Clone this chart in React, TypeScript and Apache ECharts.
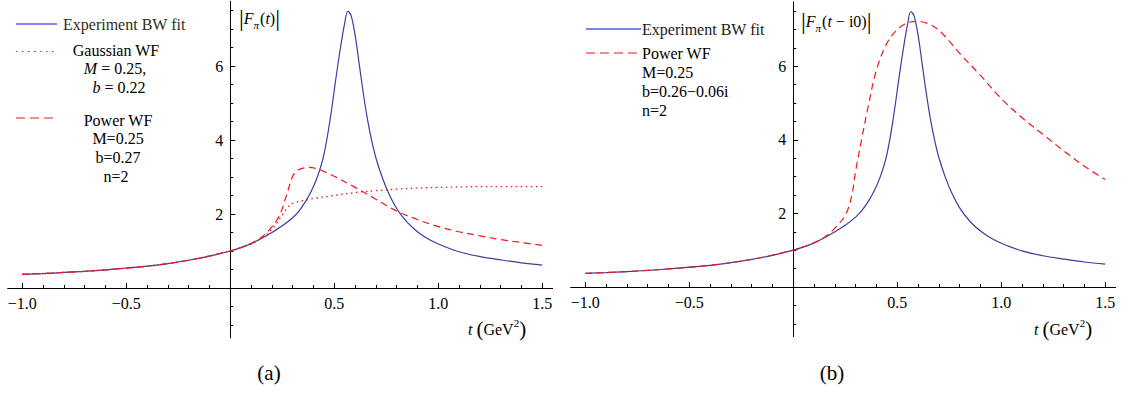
import React, { useEffect, useRef } from "react";
import * as echarts from "echarts";

// ---------- data ----------
const tBW = [-1, -0.9, -0.8, -0.7, -0.6, -0.5, -0.4, -0.3, -0.2, -0.1, 0, 0.05, 0.1, 0.15, 0.2, 0.25, 0.3, 0.33, 0.36, 0.39, 0.42, 0.45, 0.48, 0.51, 0.53, 0.55, 0.565, 0.58, 0.6, 0.62, 0.64, 0.66, 0.68, 0.7, 0.73, 0.76, 0.8, 0.85, 0.9, 0.95, 1.0, 1.1, 1.2, 1.3, 1.4, 1.5];
const fBW = [0.37, 0.39, 0.42, 0.45, 0.49, 0.54, 0.59, 0.66, 0.75, 0.86, 1.0, 1.09, 1.2, 1.34, 1.5, 1.68, 1.9, 2.08, 2.32, 2.62, 3.02, 3.6, 4.55, 5.75, 6.5, 7.15, 7.48, 7.38, 6.85, 6.05, 5.25, 4.55, 3.98, 3.52, 3.0, 2.58, 2.15, 1.78, 1.52, 1.33, 1.19, 0.98, 0.85, 0.76, 0.68, 0.62];

const tGauss = [-1, -0.8, -0.6, -0.4, -0.2, 0, 0.05, 0.1, 0.15, 0.2, 0.25, 0.28, 0.3, 0.35, 0.4, 0.5, 0.6, 0.7, 0.8, 0.9, 1.0, 1.1, 1.2, 1.3, 1.4, 1.5];
const fGauss = [0.37, 0.42, 0.49, 0.59, 0.75, 1.0, 1.09, 1.2, 1.35, 1.58, 1.97, 2.2, 2.29, 2.36, 2.42, 2.5, 2.58, 2.63, 2.67, 2.7, 2.72, 2.73, 2.74, 2.74, 2.74, 2.74];

const tPowerA = [-1, -0.8, -0.6, -0.4, -0.2, 0, 0.05, 0.1, 0.15, 0.2, 0.24, 0.27, 0.3, 0.32, 0.35, 0.38, 0.42, 0.45, 0.5, 0.6, 0.7, 0.8, 0.9, 1.0, 1.1, 1.2, 1.3, 1.4, 1.5];
const fPowerA = [0.37, 0.42, 0.49, 0.59, 0.75, 1.0, 1.09, 1.2, 1.37, 1.65, 2.0, 2.5, 3.02, 3.17, 3.24, 3.26, 3.22, 3.15, 3.02, 2.72, 2.4, 2.08, 1.85, 1.66, 1.52, 1.41, 1.31, 1.23, 1.15];

const tPowerB = [-1, -0.8, -0.6, -0.4, -0.2, 0, 0.05, 0.1, 0.15, 0.2, 0.25, 0.28, 0.3, 0.33, 0.36, 0.4, 0.45, 0.5, 0.55, 0.6, 0.65, 0.7, 0.75, 0.8, 0.9, 1.0, 1.1, 1.2, 1.3, 1.4, 1.5];
const fPowerB = [0.37, 0.42, 0.49, 0.59, 0.75, 1.0, 1.09, 1.2, 1.35, 1.6, 1.95, 2.45, 3.15, 4.05, 4.9, 5.9, 6.62, 7.0, 7.18, 7.22, 7.15, 6.98, 6.68, 6.35, 5.75, 5.12, 4.6, 4.15, 3.7, 3.28, 2.92];

const xMajorTicks = [-1, -0.5, 0.5, 1, 1.5];
const xMinorTicks = [-0.9, -0.8, -0.7, -0.6, -0.4, -0.3, -0.2, -0.1, 0.1, 0.2, 0.3, 0.4, 0.6, 0.7, 0.8, 0.9, 1.1, 1.2, 1.3, 1.4];
const yMajorTicks = [2, 4, 6];
const yMinorTicks = [-1, -0.5, 0.5, 1, 1.5, 2.5, 3, 3.5, 4.5, 5, 5.5, 6.5, 7, 7.5];

const X_MIN = -1.07;
const X_MAX = 1.55;
const Y_MIN = -1.35;
const Y_MAX = 7.75;

const SERIF = "'Liberation Serif', 'Times New Roman', serif";
const BLUE = "#3c3ca2";
const RED = "#f01818";

const zip = (t: number[], f: number[]) => t.map((x, i) => [x, f[i]]);
const fmt = (v: number) => (v < 0 ? "\u2212" + Math.abs(v).toFixed(1) : v.toFixed(1));

const hidden = (gridIndex: number, min: number, max: number) => ({
  type: "value",
  gridIndex,
  min,
  max,
  show: false,
  axisLine: { show: false, onZero: false },
  axisTick: { show: false },
  axisLabel: { show: false },
  splitLine: { show: false },
});

function xAxisTicks(gridIndex: number, major: boolean) {
  return {
    type: "value",
    gridIndex,
    min: X_MIN,
    max: X_MAX,
    position: "bottom",
    axisLine: { show: major, onZero: false, lineStyle: { color: "#000", width: 1 } },
    axisTick: { show: true, inside: true, length: major ? 5 : 3, customValues: major ? xMajorTicks : xMinorTicks, lineStyle: { color: "#000", width: 1 } },
    axisLabel: major
      ? { show: true, customValues: xMajorTicks, formatter: (v: number) => fmt(v), margin: 7, color: "#000", fontSize: 16, fontFamily: SERIF }
      : { show: false },
    splitLine: { show: false },
  };
}
function yAxisTicks(gridIndex: number, major: boolean) {
  return {
    type: "value",
    gridIndex,
    min: Y_MIN,
    max: Y_MAX,
    position: "left",
    axisLine: { show: major, onZero: false, lineStyle: { color: "#000", width: 1 } },
    axisTick: { show: true, inside: true, length: major ? 5 : 3, customValues: major ? yMajorTicks : yMinorTicks, lineStyle: { color: "#000", width: 1 } },
    axisLabel: major
      ? { show: true, customValues: yMajorTicks, margin: 7, color: "#000", fontSize: 16, fontFamily: SERIF }
      : { show: false },
    splitLine: { show: false },
  };
}

// panel layout: left edge, top edge, px per unit horizontally / vertically
function panel(L: number, T: number, sx: number, sy: number, g0: number) {
  const W = (X_MAX - X_MIN) * sx;
  const H = (Y_MAX - Y_MIN) * sy;
  const hx = Y_MAX * sy;
  const ly = L - X_MIN * sx;
  const wy = X_MAX * sx;
  const base = { containLabel: false, outerBoundsMode: "none" };
  const grids = [
    { left: L, top: T, width: W, height: H, ...base },
    { left: L, top: T, width: W, height: hx, ...base },
    { left: L, top: T, width: W, height: hx, ...base },
    { left: ly, top: T, width: wy, height: H, ...base },
    { left: ly, top: T, width: wy, height: H, ...base },
  ];
  const xAxes = [
    hidden(g0, X_MIN, X_MAX),
    xAxisTicks(g0 + 1, true),
    xAxisTicks(g0 + 2, false),
    hidden(g0 + 3, 0, X_MAX),
    hidden(g0 + 4, 0, X_MAX),
  ];
  const yAxes = [
    hidden(g0, Y_MIN, Y_MAX),
    hidden(g0 + 1, 0, Y_MAX),
    hidden(g0 + 2, 0, Y_MAX),
    yAxisTicks(g0 + 3, true),
    yAxisTicks(g0 + 4, false),
  ];
  return { grids, xAxes, yAxes };
}

function line(idx: number, data: number[][], color: string, dash: any, width: number, z: number) {
  return {
    type: "line",
    xAxisIndex: idx,
    yAxisIndex: idx,
    data,
    showSymbol: false,
    symbol: "none",
    smooth: 0.35,
    silent: true,
    z,
    lineStyle: { color, width, type: dash },
  };
}

function txt(x: number, y: number, text: string, align: string, extra: any = {}) {
  return {
    type: "text",
    x,
    y,
    silent: true,
    style: {
      text,
      fontSize: 16,
      fontFamily: SERIF,
      fill: "#000",
      align,
      textAlign: align,
      verticalAlign: "middle",
      textVerticalAlign: "middle",
      ...extra,
    },
  };
}

const richBase = {
  n: { fontSize: 16, fontFamily: SERIF, fill: "#000", color: "#000", lineHeight: 24 },
  i: { fontSize: 16, fontFamily: SERIF, fontStyle: "italic", fill: "#000", color: "#000", lineHeight: 24 },
  bar: { fontSize: 24, fontFamily: SERIF, fill: "#000", color: "#000", lineHeight: 24 },
  p: { fontSize: 21, fontFamily: SERIF, fill: "#000", color: "#000", lineHeight: 24 },
  sub: { fontSize: 11, fontFamily: SERIF, fontStyle: "italic", fill: "#000", color: "#000", lineHeight: 24, verticalAlign: "bottom", padding: [0, 1, 0, 0] },
  sup: { fontSize: 11, fontFamily: SERIF, fill: "#000", color: "#000", lineHeight: 24, verticalAlign: "top" },
};

function rich(x: number, y: number, text: string, align = "left") {
  return txt(x, y, text, align, { rich: richBase });
}

const legendA = [
  { type: "line", silent: true, shape: { x1: 16, y1: 24, x2: 57, y2: 24 }, style: { stroke: "#5a5af0", lineWidth: 1.3 } },
  txt(63, 24, "Experiment BW fit", "left", { fill: "#2e2e1c" }),
  { type: "line", silent: true, shape: { x1: 16, y1: 51.5, x2: 57, y2: 51.5 }, style: { stroke: RED, lineWidth: 1.2, lineDash: [1.5, 4.5] } },
  txt(116, 50, "Gaussian WF", "center"),
  rich(115, 68, "{i|M} = 0.25,", "center"),
  rich(119, 87, "{i|b} = 0.22", "center"),
  { type: "line", silent: true, shape: { x1: 16, y1: 118, x2: 57, y2: 118 }, style: { stroke: RED, lineWidth: 1.2, lineDash: [9, 5] } },
  txt(118, 120, "Power WF", "center"),
  txt(118, 138, "M=0.25", "center"),
  txt(118, 157, "b=0.27", "center"),
  txt(116, 176, "n=2", "center"),
];

const legendB = [
  { type: "line", silent: true, shape: { x1: 586, y1: 29, x2: 641, y2: 29 }, style: { stroke: "#5a5af0", lineWidth: 1.3 } },
  txt(642, 29, "Experiment BW fit", "left", { fill: "#1a1a1a" }),
  { type: "line", silent: true, shape: { x1: 586, y1: 53, x2: 641, y2: 53 }, style: { stroke: RED, lineWidth: 1.2, lineDash: [9, 5] } },
  txt(642, 53, "Power WF", "left"),
  txt(642, 72.5, "M=0.25", "left"),
  txt(642, 91, "b=0.26\u22120.06i", "left"),
  txt(642, 110, "n=2", "left"),
];

const titles = [
  rich(239, 18, "{bar||}{i|F}{sub|\u03c0}{n|(}{i|t}{n|)}{bar||}"),
  rich(801, 21, "{bar||}{i|F}{sub|\u03c0}{n|(}{i|t}{n| \u2212 i0)}{bar||}"),
  rich(468, 329, "{i|t} {p|(}{n|GeV}{sup|2}{p|)}"),
  rich(1034, 329, "{i|t} {p|(}{n|GeV}{sup|2}{p|)}"),
  txt(269, 373, "(a)", "center", { fontSize: 21 }),
  txt(832, 373, "(b)", "center", { fontSize: 21 }),
];

export default function App() {
  const ref = useRef<HTMLDivElement>(null);
  useEffect(() => {
    document.body.style.margin = "0";
    const chart = echarts.init(ref.current!, null, { renderer: "svg" });
    const pa = panel(7.7, 1.25, 208, 37, 0);
    const pb = panel(570.7, 1.8, 208, 36.8, 5);
    const option: any = {
      animation: false,
      backgroundColor: "#fff",
      grid: [...pa.grids, ...pb.grids],
      xAxis: [...pa.xAxes, ...pb.xAxes],
      yAxis: [...pa.yAxes, ...pb.yAxes],
      series: [
        line(0, zip(tBW, fBW), BLUE, "solid", 1.2, 2),
        line(0, zip(tGauss, fGauss), RED, [1.5, 3.5], 1.3, 3),
        line(0, zip(tPowerA, fPowerA), RED, [7, 4.5], 1.2, 4),
        line(5, zip(tBW, fBW), BLUE, "solid", 1.2, 2),
        line(5, zip(tPowerB, fPowerB), RED, [7, 4.5], 1.2, 4),
      ],
      graphic: { elements: [...legendA, ...legendB, ...titles] },
    };
    chart.setOption(option);
    return () => chart.dispose();
  }, []);
  return (
    <div
      ref={ref}
      style={{ position: "absolute", left: 0, top: 0, width: 1125, height: 394, background: "#fff" }}
    />
  );
}
